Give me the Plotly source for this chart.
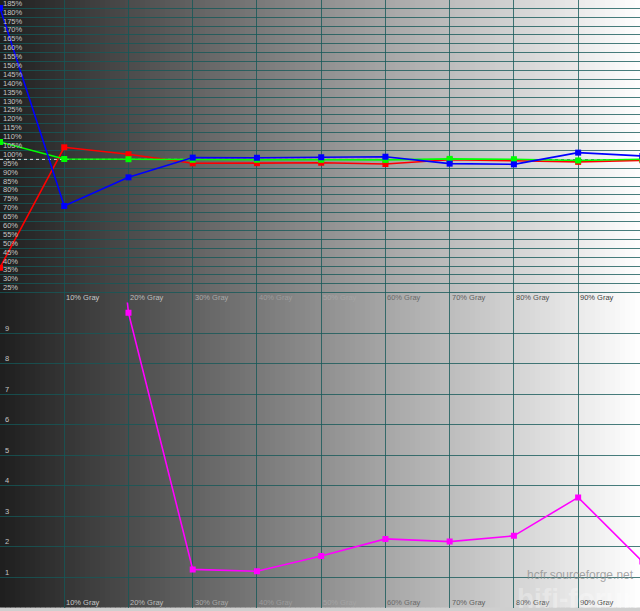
import plotly.graph_objects as go

# ---------------- data ----------------
levels = [0, 10, 20, 30, 40, 50, 60, 70, 80, 90, 100]
red_pct = [39.1, 106.8, 102.9, 97.8, 97.9, 98.1, 97.4, 99.8, 99.2, 98.6, 99.5]
green_pct = [109.8, 100.2, 100.1, 99.8, 99.8, 99.8, 99.7, 100.3, 100.1, 99.4, 100.1]
blue_pct = [185.2, 73.8, 89.9, 101.0, 100.9, 101.2, 101.5, 97.6, 97.2, 103.8, 101.9]

de_levels = [10, 20, 30, 40, 50, 60, 70, 80, 90, 100]
delta_e = [30.0, 9.66, 1.25, 1.19, 1.69, 2.25, 2.16, 2.35, 3.61, 1.51]

gray_labels = ["10% Gray", "20% Gray", "30% Gray", "40% Gray", "50% Gray",
               "60% Gray", "70% Gray", "80% Gray", "90% Gray"]
gray_label_levels = [10, 20, 30, 40, 50, 60, 70, 80, 90]
rgb_ticks = list(range(25, 190, 5))
rgb_tick_text = [f"{v}%" for v in rgb_ticks]
de_ticks = list(range(1, 10))
reference_level = 100

# ---------------- layout geometry ----------------
W, H = 640, 611
X_MAX = 99.63
top_lo = 1 - 302.5 / H
bot_lo = 3.5 / H
GRID = "rgba(20,88,88,0.78)"
FONT = "Liberation Sans, Arial, sans-serif"
label_colors = ["#c8c8c8", "#bcbcbc", "#a8a8a8", "#9c9c9c", "#a4a4a4",
                "#6a6a6a", "#606060", "#505050", "#404040"]


def gray_at(frac):
    return int(round(30 + 225 * frac))


fig = go.Figure()

# dotted 100% reference
fig.add_trace(go.Scatter(x=[levels[0], levels[-1]], y=[reference_level, reference_level],
                         mode="lines", line=dict(color="#dcdcdc", width=1, dash="dot"),
                         xaxis="x", yaxis="y", showlegend=False, hoverinfo="skip"))

for vals, col in [(red_pct, "#ff0000"), (green_pct, "#00ff00"), (blue_pct, "#0000ff")]:
    fig.add_trace(go.Scatter(x=levels, y=vals, mode="lines+markers",
                             line=dict(color=col, width=1.6),
                             marker=dict(symbol="square", size=6, color=col),
                             xaxis="x", yaxis="y", showlegend=False))

fig.add_trace(go.Scatter(x=de_levels, y=delta_e, mode="lines+markers",
                         line=dict(color="#ff00ff", width=1.6),
                         marker=dict(symbol="square", size=6, color="#ff00ff"),
                         xaxis="x2", yaxis="y2", showlegend=False))

# gradient background
shapes = []
N = 128
for i in range(N):
    g = gray_at((i + 0.5) / N)
    shapes.append(dict(type="rect", xref="paper", yref="paper",
                       x0=i / N, x1=(i + 1) / N + 0.001, y0=bot_lo, y1=1,
                       fillcolor=f"rgb({g},{g},{g})", line=dict(width=0), layer="below"))

annotations = []
# top panel y labels (sit just above their grid line)
for v, txt in zip(rgb_ticks, rgb_tick_text):
    annotations.append(dict(x=0, y=v, xref="paper", yref="y", text=txt, showarrow=False,
                            xanchor="left", yanchor="middle", xshift=1, yshift=5,
                            font=dict(family=FONT, size=7.5, color="#c4c4c4")))

for lvl, txt, c in zip(gray_label_levels, gray_labels, label_colors):
    for xr, yr in [("x", "y domain"), ("x2", "y2 domain")]:
        annotations.append(dict(x=lvl, y=0, xref=xr, yref=yr, text=txt, showarrow=False,
                                xanchor="left", yanchor="bottom", xshift=0, yshift=-1,
                                font=dict(family=FONT, size=7.5, color=c)))

annotations.append(dict(x=1, y=1 - 575 / H, xref="paper", yref="paper",
                        text="hcfr.sourceforge.net", showarrow=False,
                        xanchor="right", yanchor="middle", xshift=-4,
                        font=dict(family="Liberation Sans, Arial, sans-serif", size=12,
                                  color="rgba(140,140,140,0.75)")))
annotations.append(dict(x=515 / W, y=bot_lo, xref="paper", yref="paper",
                        text="<b>hifi-forum.de</b>", showarrow=False,
                        xanchor="left", yanchor="bottom", yshift=-8,
                        font=dict(family="Liberation Sans, Arial, sans-serif", size=28,
                                  color="rgba(255,255,255,0.3)")))

xcommon = dict(range=[0, X_MAX], tickvals=gray_label_levels + [100], showticklabels=False,
               showgrid=True, gridcolor=GRID, gridwidth=1.3, zeroline=False,
               showline=False, ticks="", fixedrange=True)

fig.update_layout(
    width=W, height=H,
    margin=dict(l=0, r=0, t=0, b=0),
    paper_bgcolor="#cfcfcf",
    plot_bgcolor="rgba(0,0,0,0)",
    shapes=shapes,
    annotations=annotations,
    showlegend=False,
    xaxis=dict(domain=[0, 1], anchor="y", **xcommon),
    xaxis2=dict(domain=[0, 1], anchor="y2", **xcommon),
    yaxis=dict(domain=[top_lo, 1], anchor="x", range=[19.5, 189.65],
               tickvals=rgb_ticks, showticklabels=False,
               showgrid=True, gridcolor=GRID, gridwidth=1, zeroline=False, showline=False,
               ticks=""),
    yaxis2=dict(domain=[bot_lo, top_lo], anchor="x2", range=[0, 10],
                tickvals=de_ticks, ticklabelposition="inside", ticklabelshift=-5,
                ticklabelstandoff=2,
                showgrid=True, gridcolor=GRID, gridwidth=1, zeroline=False, showline=False,
                ticks="", tickfont=dict(family=FONT, size=7.5, color="#c4c4c4")),
)

fig.write_html("out.html")
